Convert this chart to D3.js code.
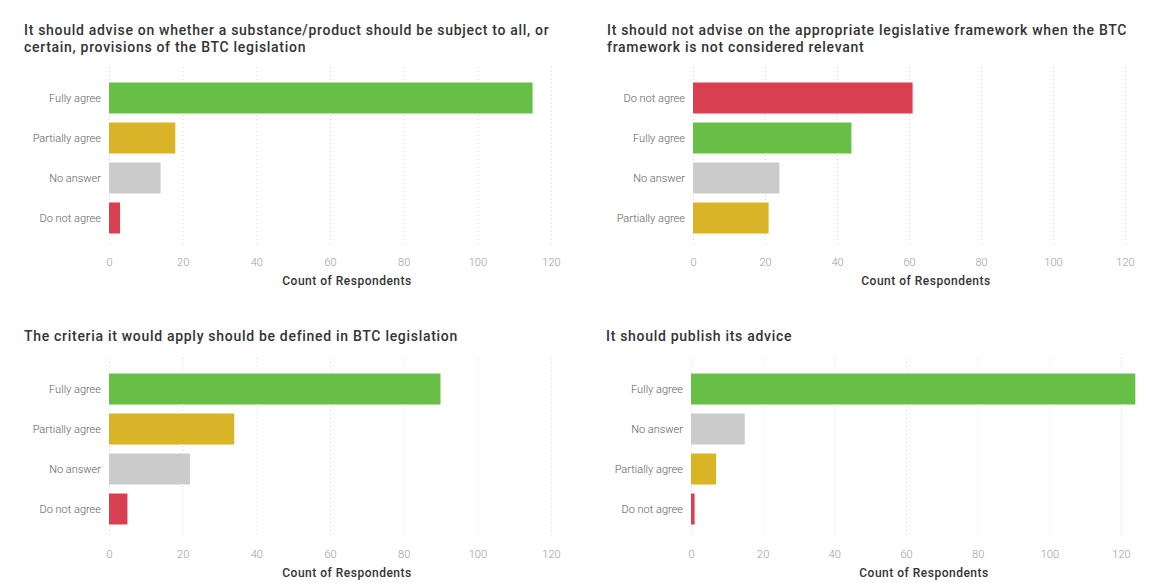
<!DOCTYPE html>
<html>
<head>
<meta charset="utf-8">
<script src="https://cdn.jsdelivr.net/npm/d3@7"></script>
<style>
  html, body { margin: 0; padding: 0; background: #ffffff; }
  svg { display: block; }
</style>
</head>
<body>
<svg id="chart" width="1150" height="583"></svg>
<script>
// Survey responses, one small set of arrays per question
const titles1 = ["It should advise on whether a substance/product should be subject to all, or", "certain, provisions of the BTC legislation"];
const cats1 = ["Fully agree", "Partially agree", "No answer", "Do not agree"];
const vals1 = [115, 18, 14, 3];

const titles2 = ["It should not advise on the appropriate legislative framework when the BTC", "framework is not considered relevant"];
const cats2 = ["Do not agree", "Fully agree", "No answer", "Partially agree"];
const vals2 = [61, 44, 24, 21];

const titles3 = ["The criteria it would apply should be defined in BTC legislation"];
const cats3 = ["Fully agree", "Partially agree", "No answer", "Do not agree"];
const vals3 = [90, 34, 22, 5];

const titles4 = ["It should publish its advice"];
const cats4 = ["Fully agree", "No answer", "Partially agree", "Do not agree"];
const vals4 = [124, 15, 7, 1];

const tickValues = [0, 20, 40, 60, 80, 100, 120];
const axisTitle = "Count of Respondents";

const answerColors = {
  "Fully agree": "#68bf45",
  "Partially agree": "#d8b426",
  "No answer": "#cbcbcb",
  "Do not agree": "#d9404f"
};

const svg = d3.select("#chart");
const font = "Roboto, 'DejaVu Sans', sans-serif";

function drawPanel(opt) {
  const g = svg.append("g");

  // question title
  const t = g.append("text")
    .attr("x", opt.titleX)
    .attr("y", opt.titleY)
    .attr("font-family", font)
    .attr("font-size", 14)
    .attr("font-weight", 500)
    .attr("letter-spacing", 0.7)
    .attr("fill", "#333333");
  opt.titles.forEach((line, i) => {
    t.append("tspan").attr("x", opt.titleX).attr("dy", i === 0 ? 0 : 17).text(line);
  });

  const domainMax = Math.max(120, d3.max(opt.values));
  const x = d3.scaleLinear()
    .domain([0, domainMax])
    .range([opt.x0, opt.x0 + (opt.x120 - opt.x0) * domainMax / 120]);

  const y = d3.scaleBand()
    .domain(opt.cats)
    .range([opt.bandTop, opt.bandTop + 160])
    .paddingInner(0.225)
    .paddingOuter(0.1125);

  // dotted vertical gridlines
  g.append("g").selectAll("line")
    .data(tickValues)
    .join("line")
    .attr("x1", d => x(d) + 0.5)
    .attr("x2", d => x(d) + 0.5)
    .attr("y1", opt.bandTop - 11)
    .attr("y2", opt.bandTop + 167)
    .attr("stroke", "#d6d6d6")
    .attr("stroke-width", 1)
    .attr("stroke-dasharray", "1,3");

  // bars
  g.append("g").selectAll("rect")
    .data(opt.cats.map((c, i) => ({ cat: c, value: opt.values[i] })))
    .join("rect")
    .attr("x", x(0))
    .attr("y", d => y(d.cat))
    .attr("width", d => x(d.value) - x(0))
    .attr("height", y.bandwidth())
    .attr("fill", d => answerColors[d.cat]);

  // category axis
  const yAxis = d3.axisLeft(y).tickSize(0).tickPadding(8);
  const ya = g.append("g")
    .attr("transform", `translate(${x(0)},0)`)
    .call(yAxis);
  ya.select(".domain").remove();
  ya.selectAll("text")
    .attr("font-family", font)
    .attr("font-size", 11)
    .attr("font-weight", 300)
    .attr("fill", "#605e5c");

  // value axis
  const xAxis = d3.axisBottom(x).tickValues(tickValues).tickSize(0).tickPadding(0);
  const xa = g.append("g")
    .attr("transform", `translate(0,${opt.tickY})`)
    .call(xAxis);
  xa.select(".domain").remove();
  xa.selectAll("text")
    .attr("font-family", font)
    .attr("font-size", 11)
    .attr("font-weight", 300)
    .attr("fill", "#9a9a9a");

  // value axis title
  g.append("text")
    .attr("x", opt.axisTitleX)
    .attr("y", opt.tickY + 27)
    .attr("text-anchor", "middle")
    .attr("font-family", font)
    .attr("font-size", 12)
    .attr("font-weight", 500)
    .attr("letter-spacing", 0.5)
    .attr("fill", "#333333")
    .text(axisTitle);
}

drawPanel({ titles: titles1, cats: cats1, values: vals1, titleX: 24, titleY: 35, x0: 109, x120: 551, bandTop: 78, tickY: 258, axisTitleX: 347 });
drawPanel({ titles: titles2, cats: cats2, values: vals2, titleX: 607, titleY: 35, x0: 693, x120: 1125, bandTop: 78, tickY: 258, axisTitleX: 926 });
drawPanel({ titles: titles3, cats: cats3, values: vals3, titleX: 24, titleY: 341, x0: 109, x120: 551, bandTop: 369, tickY: 550, axisTitleX: 347 });
drawPanel({ titles: titles4, cats: cats4, values: vals4, titleX: 606, titleY: 341, x0: 691, x120: 1121, bandTop: 369, tickY: 550, axisTitleX: 924 });
</script>
</body>
</html>
